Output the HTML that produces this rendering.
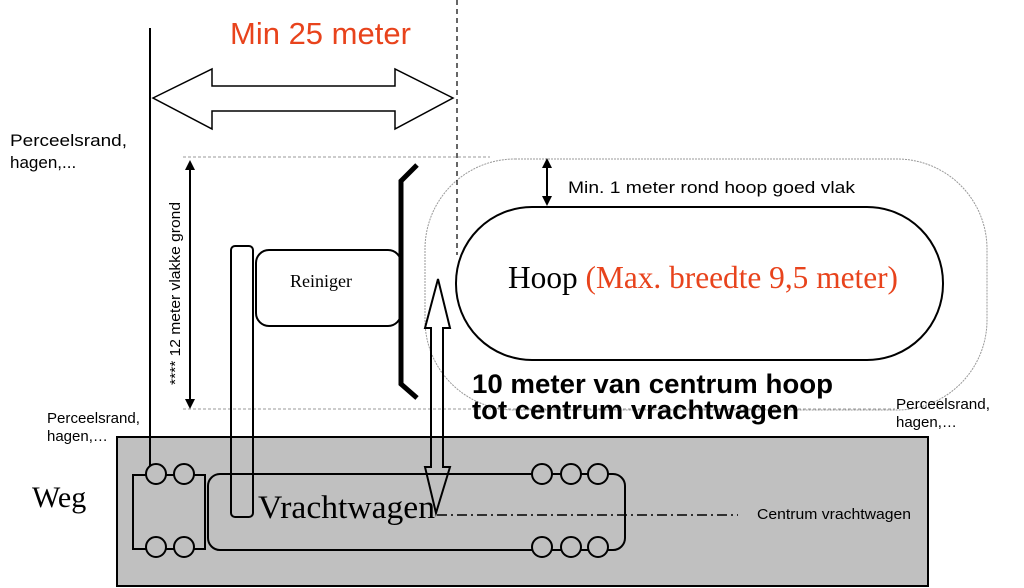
<!DOCTYPE html>
<html><head><meta charset="utf-8"><style>
html,body{margin:0;padding:0;background:#fff;}
svg{display:block;}
text{font-family:"Liberation Sans",sans-serif;}
.serif{font-family:"Liberation Serif",serif;}
</style></head><body>
<svg width="1024" height="588" viewBox="0 0 1024 588" xmlns="http://www.w3.org/2000/svg">
<rect x="117" y="437" width="811" height="149" fill="#c0c0c0" stroke="#000" stroke-width="2"/>
<line x1="183" y1="157" x2="490" y2="157" stroke="#999" stroke-width="1" stroke-dasharray="3,2"/>
<line x1="183" y1="409" x2="895" y2="409" stroke="#999" stroke-width="1" stroke-dasharray="3,2"/>
<rect x="425" y="159" width="562" height="251" rx="90" fill="none" stroke="#999" stroke-width="1" stroke-dasharray="2,1"/>
<line x1="457" y1="0" x2="457" y2="255" stroke="#000" stroke-width="1.2" stroke-dasharray="5,4"/>
<line x1="150" y1="28" x2="150" y2="466" stroke="#000" stroke-width="2"/>
<polygon points="153,98 212,69 212,86 395,86 395,69 453,98 395,129 395,111 212,111 212,129" fill="#fff" stroke="#000" stroke-width="1.5"/>
<text x="230" y="44" font-size="31" fill="#e8431c">Min 25 meter</text>
<line x1="190" y1="166" x2="190" y2="402" stroke="#000" stroke-width="2"/>
<polygon points="190,160 185,170 195,170" fill="#000"/>
<polygon points="190,409 185,399 195,399" fill="#000"/>
<text transform="translate(180,385) rotate(-90)" font-size="15" textLength="183" lengthAdjust="spacingAndGlyphs">**** 12 meter vlakke grond</text>
<rect x="456" y="207" width="487" height="153" rx="76" fill="#fff" stroke="#000" stroke-width="2"/>
<text class="serif" x="508" y="288" font-size="32" textLength="390" lengthAdjust="spacingAndGlyphs" fill="#000">Hoop <tspan fill="#e8431c">(Max. breedte 9,5 meter)</tspan></text>
<line x1="547" y1="164" x2="547" y2="200" stroke="#000" stroke-width="2"/>
<polygon points="547,158 542,168 552,168" fill="#000"/>
<polygon points="547,206 542,196 552,196" fill="#000"/>
<text x="568" y="193" font-size="17" textLength="287" lengthAdjust="spacingAndGlyphs">Min. 1 meter rond hoop goed vlak</text>
<rect x="256" y="250" width="145" height="76" rx="13" fill="#fff" stroke="#000" stroke-width="2"/>
<text class="serif" x="290" y="287" font-size="18">Reiniger</text>
<polyline points="417,165 401,181 401,384 417,398" fill="none" stroke="#000" stroke-width="5"/>
<text x="10" y="146" font-size="17" textLength="117" lengthAdjust="spacingAndGlyphs">Perceelsrand,</text>
<text x="10" y="168" font-size="17">hagen,...</text>
<text x="47" y="423" font-size="15" textLength="93" lengthAdjust="spacingAndGlyphs">Perceelsrand,</text>
<text x="47" y="441" font-size="15">hagen,…</text>
<text x="896" y="409" font-size="15" textLength="94" lengthAdjust="spacingAndGlyphs">Perceelsrand,</text>
<text x="896" y="427" font-size="15">hagen,…</text>
<text x="472" y="393" font-size="27" font-weight="bold" textLength="361" lengthAdjust="spacingAndGlyphs">10 meter van centrum hoop</text>
<text x="472" y="419" font-size="27" font-weight="bold" textLength="327" lengthAdjust="spacingAndGlyphs">tot centrum vrachtwagen</text>
<text class="serif" x="32" y="507" font-size="30">Weg</text>
<rect x="133" y="475" width="72" height="74" fill="none" stroke="#000" stroke-width="2"/>
<rect x="208" y="474" width="417" height="76" rx="12" fill="none" stroke="#000" stroke-width="2"/>
<g fill="#c0c0c0" stroke="#000" stroke-width="2">
<circle cx="156" cy="474" r="10"/><circle cx="184" cy="474" r="10"/>
<circle cx="156" cy="547" r="10"/><circle cx="184" cy="547" r="10"/>
<circle cx="542" cy="474" r="10"/><circle cx="571" cy="474" r="10"/><circle cx="598" cy="474" r="10"/>
<circle cx="542" cy="547" r="10"/><circle cx="571" cy="547" r="10"/><circle cx="598" cy="547" r="10"/>
</g>
<rect x="231" y="246" width="22" height="271" rx="4" fill="none" stroke="#000" stroke-width="2"/>
<text class="serif" x="258" y="518" font-size="33" textLength="177" lengthAdjust="spacingAndGlyphs">Vrachtwagen</text>
<line x1="437" y1="515" x2="738" y2="515" stroke="#000" stroke-width="1.5" stroke-dasharray="10,4,2,4"/>
<text x="757" y="519" font-size="15" textLength="154" lengthAdjust="spacingAndGlyphs">Centrum vrachtwagen</text>
<polygon points="438,279 450,328 443,328 443,467 450,467 436,513 425,467 431,467 431,328 425,328" fill="none" stroke="#000" stroke-width="2"/>
</svg>
</body></html>
